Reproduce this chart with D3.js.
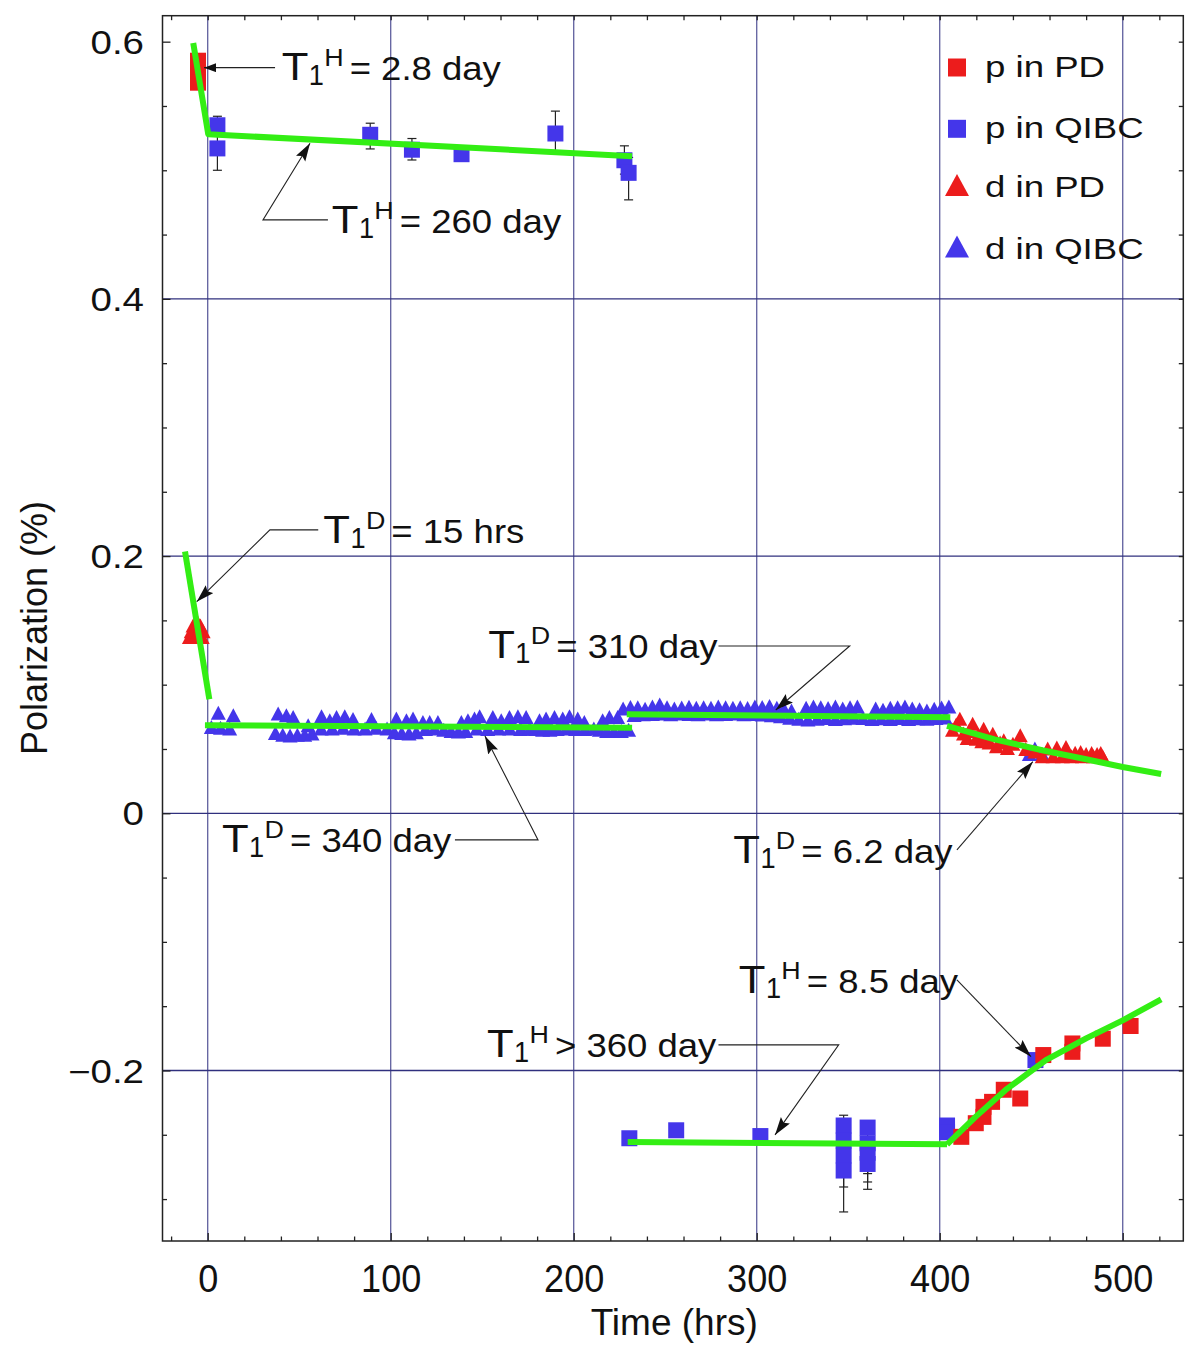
<!DOCTYPE html>
<html><head><meta charset="utf-8">
<script src="https://cdn.jsdelivr.net/npm/d3@7"></script>
<style>body{margin:0;background:#fff} svg{display:block}</style>
</head><body>
<svg id="chart" width="1194" height="1348"></svg>
<script>
// ---------------- DATA ----------------
const xTicks = [0, 100, 200, 300, 400, 500];
const xTickLabels = ["0", "100", "200", "300", "400", "500"];
const yTicks = [-0.2, 0, 0.2, 0.4, 0.6];
const yTickLabels = ["\u22120.2", "0", "0.2", "0.4", "0.6"];
const yGrid = [-0.2, 0, 0.2, 0.4];
const xMinor = [-20,20,40,60,80,120,140,160,180,220,240,260,280,320,340,360,380,420,440,460,480,520];
const yMinor = [-0.3,-0.25,-0.15,-0.1,-0.05,0.05,0.1,0.15,0.25,0.3,0.35,0.45,0.5,0.55];

// p in PD (red squares)
const pPD_t = [-5.3, -5.3, -5.3, 411.8, 419.7, 423.9, 423.9, 428.6, 435, 444, 456.6, 472.5, 472.5, 489.1, 504.3];
const pPD_v = [0.5852, 0.5767, 0.5681, -0.2516, -0.241, -0.2283, -0.2361, -0.2244, -0.215, -0.2218, -0.188, -0.179, -0.1855, -0.1753, -0.1654];

// p in QIBC (blue squares) with error-bar ends
const pQ_t  = [5.3, 5.3, 88.8, 111.6, 138.7, 190, 227.7, 230, 230.4, 256, 302, 347.5, 347.5, 347.5, 347.5, 360.6, 360.6, 360.6, 360.6, 404, 404, 452.3];
const pQ_v  = [0.535, 0.517, 0.5276, 0.516, 0.5125, 0.5286, 0.5078, 0.498, -0.2527, -0.2465, -0.251, -0.2428, -0.2545, -0.2661, -0.2778, -0.2444, -0.2566, -0.2640, -0.2727, -0.2428, -0.248, -0.1919];
const pQ_hi = [0.542, 0.534, 0.5366, 0.5247, 0.5155, 0.546, 0.519, 0.510, null, null, null, -0.2348, null, null, null, null, null, null, null, null, null, null];
const pQ_lo = [0.528, 0.500, 0.5166, 0.508, 0.5095, 0.515, 0.497, 0.477, null, null, null, null, null, -0.310, -0.2906, -0.2924, -0.2867, null, -0.2802, null, null, null];

// d in PD (red triangles)
const dPD_t = [-10, -7, -3, -9, -5, -2.5, -8, -4, -6,
  407, 409, 411, 413, 415, 416, 418, 420, 421, 423, 424, 426, 427, 429, 431, 433, 435, 437, 440, 444, 447, 452,
  456, 459, 462, 464, 467, 469, 472, 474, 477, 478, 480, 483, 484, 486, 488, 489];
const dPD_v = [0.137, 0.137, 0.137, 0.1415, 0.1415, 0.1415, 0.146, 0.146, 0.150,
  0.065, 0.069, 0.0736, 0.062, 0.0586, 0.064, 0.0697, 0.058, 0.061, 0.056, 0.0658, 0.059, 0.055, 0.0619, 0.0521, 0.055, 0.0568, 0.0508, 0.054, 0.0607, 0.050, 0.048,
  0.0444, 0.0503, 0.0444, 0.0511, 0.0444, 0.0516, 0.0444, 0.047, 0.0477, 0.0444, 0.046, 0.0469, 0.0444, 0.046, 0.0469, 0.0444];

// d in QIBC (blue triangles)
const dQ_t = [
  5.8, 14, 38.5, 43, 46.7, 54.9, 62.2, 66.7, 70.4, 74.9, 79.4, 89.5, 103.1, 108.6, 112.2, 117.6, 121.3, 125.8, 138.6, 142.2, 145.8, 148.6, 155.8, 160.4, 164.9, 169.5, 174, 181.3, 184.9, 189.5, 194, 197.7, 202.2, 205.8, 215.8, 219.5, 224,
  2, 7, 12, 37, 41, 45, 49, 53, 57, 62, 68, 74, 80, 86, 92, 98, 102, 106, 110, 114, 119, 124, 129, 133, 137, 141, 147, 153, 159, 165, 171, 176, 179, 183, 187, 191, 196, 201, 206, 211, 214, 218, 222, 226, 230,
  227, 231, 235, 239, 243, 247, 251, 255, 259, 263, 267, 271, 275, 279, 283, 287, 291, 295, 299, 303, 307, 311, 315, 319, 327, 331, 335, 339, 343, 347, 351, 355, 365, 369, 373, 377, 381, 385, 389, 393, 397, 401, 405,
  233, 238, 243, 248, 253, 258, 263, 268, 273, 278, 283, 288, 293, 298, 303, 308, 313, 318, 323, 328, 333, 338, 343, 348, 353, 358, 363, 368, 373, 378, 383, 388, 393, 398, 403,
  449, 452, 456];
const dQ_v = [
  0.0781, 0.0763, 0.0775, 0.0763, 0.0749, 0.0685, 0.0755, 0.0724, 0.0749, 0.0755, 0.0734, 0.0734, 0.0737, 0.0724, 0.0737, 0.0710, 0.0710, 0.0710, 0.0710, 0.0724, 0.0737, 0.0755, 0.0749, 0.0724, 0.0749, 0.0755, 0.0749, 0.0724, 0.0737, 0.0749, 0.0737, 0.0755, 0.0737, 0.0710, 0.0724, 0.0749, 0.0749,
  0.067, 0.0665, 0.066, 0.0625, 0.061, 0.0605, 0.061, 0.061, 0.062, 0.066, 0.066, 0.0665, 0.066, 0.066, 0.0665, 0.066, 0.063, 0.0625, 0.062, 0.063, 0.0655, 0.066, 0.065, 0.064, 0.0635, 0.064, 0.066, 0.0655, 0.066, 0.066, 0.0655, 0.066, 0.0655, 0.065, 0.065, 0.0655, 0.066, 0.0655, 0.0655, 0.066, 0.065, 0.064, 0.064, 0.064, 0.065,
  0.0814, 0.0827, 0.0825, 0.0812, 0.0830, 0.0845, 0.0825, 0.0815, 0.0822, 0.0828, 0.0820, 0.0825, 0.0820, 0.0830, 0.0825, 0.0820, 0.0825, 0.0818, 0.0830, 0.0826, 0.0835, 0.0820, 0.0810, 0.0800, 0.0820, 0.0830, 0.0825, 0.0818, 0.0830, 0.0815, 0.0825, 0.0830, 0.0815, 0.0805, 0.0820, 0.0825, 0.0830, 0.0815, 0.0808, 0.0800, 0.0812, 0.0822, 0.0830,
  0.0765, 0.0770, 0.0772, 0.0775, 0.0770, 0.0775, 0.0772, 0.0770, 0.0775, 0.0770, 0.0772, 0.0775, 0.0770, 0.0772, 0.0768, 0.0762, 0.0755, 0.0742, 0.0735, 0.0730, 0.0735, 0.0740, 0.0733, 0.0738, 0.0742, 0.0740, 0.0734, 0.0738, 0.0733, 0.0740, 0.0734, 0.0738, 0.0735, 0.0740, 0.0745,
  0.046, 0.0503, 0.046];

// fitted relaxation curves (time, polarization)
const fitPtop  = [[-7.9, 0.599], [0.3, 0.528], [231.9, 0.511]];
const fitD1    = [[-12.4, 0.2036], [0.9, 0.0887]];
const fitD2    = [[-1.5, 0.0685], [231.9, 0.0666]];
const fitD3    = [[229, 0.077], [405.8, 0.0747]];
const fitD4    = [[404, 0.068], [430, 0.0575], [456, 0.049], [480, 0.042], [500, 0.036], [521, 0.0305]];
const fitPbot1 = [[229.5, -0.2556], [404, -0.2574]];
const fitPbot2 = [[404, -0.2574], [420, -0.2355], [436, -0.2151], [458, -0.1919], [480, -0.175], [500, -0.161], [521, -0.1447]];

const legendLabels = ["p in PD", "p in QIBC", "d in PD", "d in QIBC"];

// annotations (anchored in data units)
const annotations = [
  {t: 40.4,  v: 0.5702,  sup: "H", rest: "= 2.8 day", arrow: [[36.8, 0.5798], [-2.0, 0.5798]], head: "small"},
  {t: 67.8,  v: 0.4510,  sup: "H", rest: "= 260 day", arrow: [[65.7, 0.4614], [30.2, 0.4614], [55.9, 0.5210]]},
  {t: 63.2,  v: 0.2100,  sup: "D", rest: "= 15 hrs",  arrow: [[60.4, 0.2204], [34.0, 0.2204], [-6.0, 0.1645]]},
  {t: 153.3, v: 0.1205,  sup: "D", rest: "= 310 day", arrow: [[279.1, 0.1301], [350.8, 0.1301], [310.4, 0.0803]]},
  {t: 7.8,   v: -0.0301, sup: "D", rest: "= 340 day", arrow: [[135.1, -0.0207], [180.5, -0.0207], [151.5, 0.0601]]},
  {t: 287.2, v: -0.0389, sup: "D", rest: "= 6.2 day", arrow: [[409.4, -0.0285], [450.9, 0.0401]]},
  {t: 290.2, v: -0.1400, sup: "H", rest: "= 8.5 day", arrow: [[409.4, -0.1296], [449.9, -0.1893]]},
  {t: 152.6, v: -0.1895, sup: "H", rest: "> 360 day", arrow: [[279.1, -0.1801], [344.8, -0.1801], [310.0, -0.2501]]}
];

// ---------------- DRAWING ----------------
const RED = "#ec1c1c", BLUE = "#4436ea", GREEN = "#33ee14";
const FONT = '"Liberation Sans", Arial, Helvetica, sans-serif';
const svg = d3.select("#chart").attr("font-family", FONT);
const L = 162.5, R = 1183.3, T = 15.7, B = 1241;
const x = d3.scaleLinear().domain([-24.7, 533.1]).range([L, R]);
const y = d3.scaleLinear().domain([-0.3326, 0.6202]).range([B, T]);

function stext(g, px, py, str, size, sx, anchor) {
  return g.append("text")
    .attr("transform", `translate(${px},${py}) scale(${sx},1)`)
    .attr("font-size", size).attr("text-anchor", anchor || "start")
    .attr("fill", "#111").text(str);
}

// gridlines
svg.append("g").selectAll("line").data(xTicks).join("line")
  .attr("x1", d => x(d)).attr("x2", d => x(d)).attr("y1", T).attr("y2", B)
  .attr("stroke", "#5f5f9e").attr("stroke-width", 1.3);
svg.append("g").selectAll("line").data(yGrid).join("line")
  .attr("x1", L).attr("x2", R).attr("y1", d => y(d)).attr("y2", d => y(d))
  .attr("stroke", "#30307e").attr("stroke-width", 1.3);

// axes (ticks inward)
function styleAxis(g) {
  g.select(".domain").remove();
  g.selectAll(".tick line").attr("stroke", "#222").attr("stroke-width", 1.3);
}
const SY = 1.18;
const yAx = svg.append("g").attr("transform", `translate(${L},0)`)
  .call(d3.axisLeft(y).tickValues(yTicks).tickSizeInner(-8).tickSizeOuter(0)
    .tickPadding(18.5 / SY).tickFormat((d, i) => yTickLabels[i]));
yAx.selectAll("text").attr("font-size", 32.6).attr("font-family", FONT).attr("fill", "#111")
  .attr("dy", "0.355em").attr("transform", `scale(${SY},1)`);
styleAxis(yAx);
svg.append("g").attr("transform", `translate(${L},0)`)
  .call(d3.axisLeft(y).tickValues(yMinor).tickSizeInner(-4.5).tickSizeOuter(0).tickFormat(""))
  .call(styleAxis);
const xAx = svg.append("g").attr("transform", `translate(0,${B})`)
  .call(d3.axisBottom(x).tickValues(xTicks).tickSizeInner(-8).tickSizeOuter(0)
    .tickPadding(23.7).tickFormat((d, i) => xTickLabels[i]));
xAx.selectAll("text").attr("font-size", 38).attr("font-family", FONT).attr("fill", "#111")
  .attr("transform", "scale(0.95,1)");
styleAxis(xAx);
svg.append("g").attr("transform", `translate(0,${B})`)
  .call(d3.axisBottom(x).tickValues(xMinor).tickSizeInner(-4.5).tickSizeOuter(0).tickFormat(""))
  .call(styleAxis);
svg.append("g").attr("transform", `translate(0,${T})`)
  .call(d3.axisTop(x).tickValues(xTicks.concat(xMinor)).tickSizeInner(-4.5).tickSizeOuter(0).tickFormat(""))
  .call(styleAxis);
svg.append("g").attr("transform", `translate(${R},0)`)
  .call(d3.axisRight(y).tickValues(yTicks.concat(yMinor)).tickSizeInner(-4.5).tickSizeOuter(0).tickFormat(""))
  .call(styleAxis);

// frame
svg.append("rect").attr("x", L).attr("y", T).attr("width", R - L).attr("height", B - T)
  .attr("fill", "none").attr("stroke", "#222").attr("stroke-width", 1.5);

// axis titles
svg.append("text").attr("x", (x(0) + x(500)) / 2 + 9).attr("y", 1335)
  .attr("text-anchor", "middle").attr("font-size", 37).attr("fill", "#111").text("Time (hrs)");
svg.append("text").attr("transform", "translate(47,628) rotate(-90)")
  .attr("text-anchor", "middle").attr("font-size", 36).attr("fill", "#111").text("Polarization (%)");

// error bars
const eb = svg.append("g").attr("stroke", "#222").attr("stroke-width", 1.2);
pQ_t.forEach((t, i) => {
  const cx = x(t);
  [pQ_hi[i], pQ_lo[i]].forEach(e => {
    if (e === null) return;
    eb.append("line").attr("x1", cx).attr("x2", cx).attr("y1", y(pQ_v[i])).attr("y2", y(e));
    eb.append("line").attr("x1", cx - 4.5).attr("x2", cx + 4.5).attr("y1", y(e)).attr("y2", y(e));
  });
});

// markers
const tri = (w, h) => `M0,${-h / 2}L${w / 2},${h / 2}L${-w / 2},${h / 2}Z`;
const sq = s => `M${-s / 2},${-s / 2}h${s}v${s}h${-s}Z`;
function drawPts(ts, vs, path, color) {
  svg.append("g").selectAll("path").data(ts).join("path")
    .attr("d", path).attr("fill", color)
    .attr("transform", (t, i) => `translate(${x(t)},${y(vs[i])})`);
}
drawPts(dQ_t, dQ_v, tri(15, 14), BLUE);
drawPts(dPD_t, dPD_v, tri(15, 14), RED);
drawPts(pQ_t, pQ_v, sq(16), BLUE);
drawPts(pPD_t, pPD_v, sq(16), RED);

// fits
const line = d3.line().x(d => x(d[0])).y(d => y(d[1]));
[fitPtop, fitD1, fitD2, fitD3, fitD4, fitPbot1, fitPbot2].forEach(f => {
  svg.append("path").attr("d", line(f)).attr("fill", "none").attr("stroke", GREEN)
    .attr("stroke-width", 6).attr("stroke-linejoin", "round");
});

// arrow markers
const defs = svg.append("defs");
defs.append("marker").attr("id", "ah").attr("markerUnits", "userSpaceOnUse")
  .attr("markerWidth", 20).attr("markerHeight", 12).attr("refX", 18).attr("refY", 5.5)
  .attr("orient", "auto").append("path").attr("d", "M0,0L18,5.5L0,11L3,5.5Z").attr("fill", "#111");
defs.append("marker").attr("id", "ahs").attr("markerUnits", "userSpaceOnUse")
  .attr("markerWidth", 14).attr("markerHeight", 10).attr("refX", 12).attr("refY", 4.5)
  .attr("orient", "auto").append("path").attr("d", "M0,0L12,4.5L0,9Z").attr("fill", "#111");

// annotations: one text element each; pieces as non-overlapping positioned tspans
const ag = svg.append("g");
const SA = 1.12;
annotations.forEach(a => {
  const px = x(a.t), py = y(a.v);
  const tx = ag.append("text").attr("transform", `translate(${px},${py}) scale(${SA},1)`).attr("fill", "#111");
  tx.append("tspan").attr("x", 0).attr("y", 0).attr("font-size", 39).text("T");
  tx.append("tspan").attr("x", 24.2).attr("y", 5).attr("font-size", 29)
    .attr("textLength", 13.5).attr("lengthAdjust", "spacingAndGlyphs").text("1");
  tx.append("tspan").attr("x", 38).attr("y", -14).attr("font-size", 24).text(a.sup);
  tx.append("tspan").attr("x", 68 / SA).attr("y", 0).attr("font-size", 32.6).text(a.rest);
  ag.append("path").attr("d", line(a.arrow))
    .attr("fill", "none").attr("stroke", "#222").attr("stroke-width", 1.1)
    .attr("marker-end", a.head === "small" ? "url(#ahs)" : "url(#ah)");
});

// legend
const lg = svg.append("g");
const lgMarks = [[sq(18), RED], [sq(18), BLUE], [tri(24, 22), RED], [tri(24, 22), BLUE]];
const lgY = [67.5, 128.8, 185, 246.5];
legendLabels.forEach((lab, i) => {
  lg.append("path").attr("d", lgMarks[i][0]).attr("fill", lgMarks[i][1])
    .attr("transform", `translate(957,${lgY[i]})`);
  stext(lg, 985, [77, 138.3, 197, 259][i], lab, 30, 1.22);
});
</script>
</body></html>
